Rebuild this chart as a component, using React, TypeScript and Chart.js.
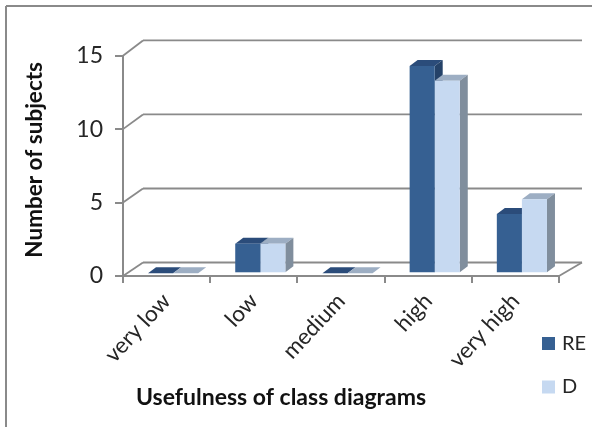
import React, { useEffect, useRef } from "react";
import { Chart, registerables } from "chart.js";

Chart.register(...registerables);

const categories = ["very low", "low", "medium", "high", "very high"];
const reValues = [0, 2, 0, 14, 4];
const dValues = [0, 2, 0, 13, 5];
const yTicks = [0, 5, 10, 15];
const FONT = "Lato, 'Open Sans', sans-serif";
const GRAY = "#8a8a8a";
const TEXT = "#262626";

const faces = [
  { top: "#2b4c7a", side: "#254268", swatch: "#366092" },
  { top: "#9daec3", side: "#808e9d", swatch: "#c6d9f1" },
];

const BAR_DX = 6.5;
const BAR_DY = -2.7;
const BAR_K = 1.008;
const DEPTH_X = 8;
const DEPTH_Y = 6;
const WALL_DX = 20;
const WALL_DY = -13.5;

function line(ctx: CanvasRenderingContext2D, x1: number, y1: number, x2: number, y2: number) {
  ctx.beginPath();
  ctx.moveTo(x1, y1);
  ctx.lineTo(x2, y2);
  ctx.stroke();
}

function applyBarTransform(chart: any) {
  const b = chart.scales.y.getPixelForValue(0);
  chart.ctx.translate(BAR_DX, BAR_DY + b * (1 - BAR_K));
  chart.ctx.scale(1, BAR_K);
}

const plot3d = {
  id: "plot3d",
  beforeDatasetsDraw(chart: any) {
    const { ctx, scales } = chart;
    const x = scales.x;
    const y = scales.y;
    const base = y.getPixelForValue(0);
    ctx.save();
    ctx.strokeStyle = GRAY;
    ctx.lineWidth = 1.8;
    yTicks.forEach((v) => {
      const py = y.getPixelForValue(v);
      const by = base + WALL_DY + (py - base) * BAR_K;
      line(ctx, x.left, py, x.left + WALL_DX, by);
      line(ctx, x.left + WALL_DX, by, x.right + WALL_DX + 3, by);
    });
    line(ctx, x.right, base, x.right + WALL_DX + 3, base + WALL_DY);
    ctx.restore();

    ctx.save();
    applyBarTransform(chart);
    [0, 1].forEach((index) => {
      const colors = faces[index];
      chart.getDatasetMeta(index).data.forEach((bar: any) => {
        const { x: bx, y: by, base: bb, width } = bar.getProps(["x", "y", "base", "width"], true);
        const l = bx - width / 2;
        const r = bx + width / 2;
        ctx.fillStyle = colors.top;
        ctx.beginPath();
        ctx.moveTo(l, by);
        ctx.lineTo(l + DEPTH_X, by - DEPTH_Y);
        ctx.lineTo(r + DEPTH_X, by - DEPTH_Y);
        ctx.lineTo(r, by);
        ctx.closePath();
        ctx.fill();
        if (bb - by > 0.5) {
          ctx.fillStyle = colors.side;
          ctx.beginPath();
          ctx.moveTo(r, by);
          ctx.lineTo(r + DEPTH_X, by - DEPTH_Y);
          ctx.lineTo(r + DEPTH_X, bb - DEPTH_Y);
          ctx.lineTo(r, bb);
          ctx.closePath();
          ctx.fill();
        }
      });
    });
    ctx.restore();
  },
  beforeDatasetDraw(chart: any) {
    chart.ctx.save();
    applyBarTransform(chart);
  },
  afterDatasetDraw(chart: any) {
    chart.ctx.restore();
  },
  afterDraw(chart: any) {
    const { ctx, data } = chart;
    ctx.save();
    ctx.strokeStyle = GRAY;
    ctx.lineWidth = 2;
    line(ctx, 6, 6, chart.width, 6);
    line(ctx, 6, 6, 6, chart.height);
    ctx.font = `20px ${FONT}`;
    ctx.textBaseline = "middle";
    data.datasets.forEach((ds: any, i: number) => {
      const cy = 343.5 + i * 43.5;
      ctx.fillStyle = faces[i].swatch;
      ctx.fillRect(542, cy - 6.5, 13, 13);
      ctx.fillStyle = TEXT;
      ctx.fillText(ds.label, 562, cy);
    });
    ctx.restore();
  },
};

function shiftTitle(scale: any, dx: number, dy: number) {
  if (scale.__shifted) return;
  const original = scale.drawTitle;
  scale.drawTitle = function (...rest: any[]) {
    const c = this.ctx;
    c.save();
    c.translate(dx, dy);
    original.apply(this, rest);
    c.restore();
  };
  scale.__shifted = true;
}

export default function App() {
  const ref = useRef<HTMLCanvasElement>(null);
  useEffect(() => {
    const chart = new Chart(ref.current as HTMLCanvasElement, {
      type: "bar",
      data: {
        labels: categories,
        datasets: [
          { label: "RE", data: reValues, backgroundColor: faces[0].swatch, clip: false, categoryPercentage: 0.575, barPercentage: 1 },
          { label: "D", data: dValues, backgroundColor: faces[1].swatch, clip: false, categoryPercentage: 0.575, barPercentage: 1 },
        ],
      } as any,
      options: {
        animation: false,
        responsive: false,
        layout: { padding: { left: 0, right: 33, top: 55.7, bottom: 0 } },
        plugins: { legend: { display: false }, tooltip: { enabled: false } },
        scales: {
          x: {
            grid: { drawOnChartArea: false, drawTicks: true, tickLength: 7, color: GRAY, lineWidth: 2 },
            border: { color: GRAY, width: 2 },
            ticks: { color: TEXT, font: { family: FONT, size: 22.5 }, minRotation: 47, maxRotation: 47, padding: 5, labelOffset: 0, autoSkip: false },
            title: { display: true, text: "Usefulness of class diagrams", color: "#111", font: { family: FONT, size: 23, weight: "bold" } },
            afterFit: (s: any) => {
              s.height = 151;
              shiftTitle(s, -60, -12);
            },
          },
          y: {
            min: 0,
            max: 15,
            ticks: { stepSize: 5, color: TEXT, font: { family: FONT, size: 23 }, padding: 12 },
            grid: { drawOnChartArea: false, drawTicks: true, tickLength: 8, color: GRAY, lineWidth: 2 },
            border: { color: GRAY, width: 2 },
            title: { display: true, text: "Number of subjects", color: "#111", font: { family: FONT, size: 22.5, weight: "bold" } },
            afterFit: (s: any) => {
              s.width = 123;
              shiftTitle(s, 17, -6);
            },
          },
        },
      } as any,
      plugins: [plot3d],
    });
    return () => chart.destroy();
  }, []);
  return (
    <canvas
      ref={ref}
      width={592}
      height={427}
      style={{ position: "fixed", left: 0, top: 0, width: 592, height: 427, background: "#fff", filter: "blur(0.4px)" }}
    />
  );
}
